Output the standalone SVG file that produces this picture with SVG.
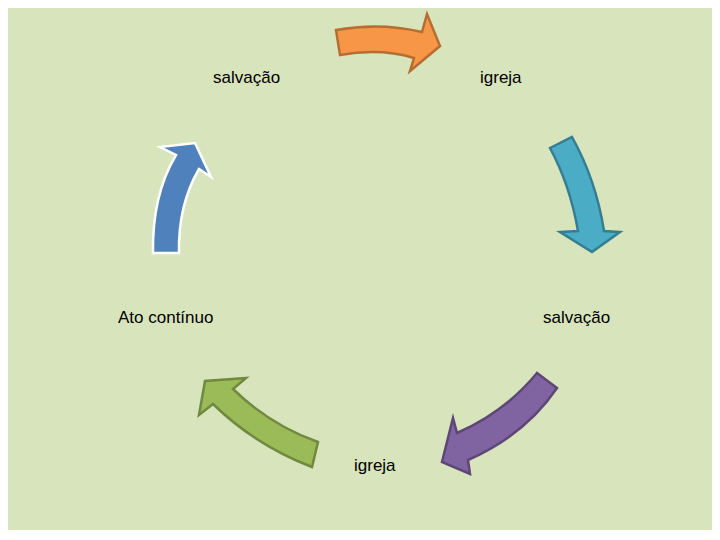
<svg xmlns="http://www.w3.org/2000/svg" width="720" height="540" viewBox="0 0 720 540">
<style>
text{font-family:"Liberation Sans",Arial,sans-serif;font-size:17px;fill:#000}
.a{stroke-width:2.5;stroke-linejoin:miter}
</style>
<rect width="720" height="540" fill="#fff"/>
<rect x="8" y="8" width="704" height="522" fill="#D8E4BC"/>
<g id="connectors">
<path class="a" fill="#F79646" stroke="#B66D31" d="M336,30 Q380,22 422,32 L427,14 L440,46 L410,71 L414,58 Q380,48 340,55 Z"/>
<path class="a" fill="#4BACC6" stroke="#357D91" d="M550,148 L572,137 Q596,180 604,231 L620,232 L592,252 L560,232 L578,231 Q570,185 550,148 Z"/>
<path class="a" fill="#8064A2" stroke="#5C4776" d="M537,373 L557,388 Q525,435 468,460 L470,474 L442,462 L453,418 L457,433 Q505,412 537,373 Z"/>
<path class="a" fill="#9BBB59" stroke="#71893F" d="M318,442 L312,467 Q255,445 213,404 L199,415 L205,381 L246,378 L233,389 Q270,425 318,442 Z"/>
<path class="a" fill="#4F81BD" stroke="#fff" d="M153,253 Q152,195 176,155 L160,147 L195,143 L211,177 L199,169 Q178,205 179,253 Z"/>
</g>
<g id="n1"><text x="213" y="83">salvação</text></g>
<g id="n2"><text x="480" y="83">igreja</text></g>
<g id="n3"><text x="543" y="323">salvação</text></g>
<g id="n4"><text x="354" y="471">igreja</text></g>
<g id="n5"><text x="118" y="323">Ato contínuo</text></g>
</svg>
